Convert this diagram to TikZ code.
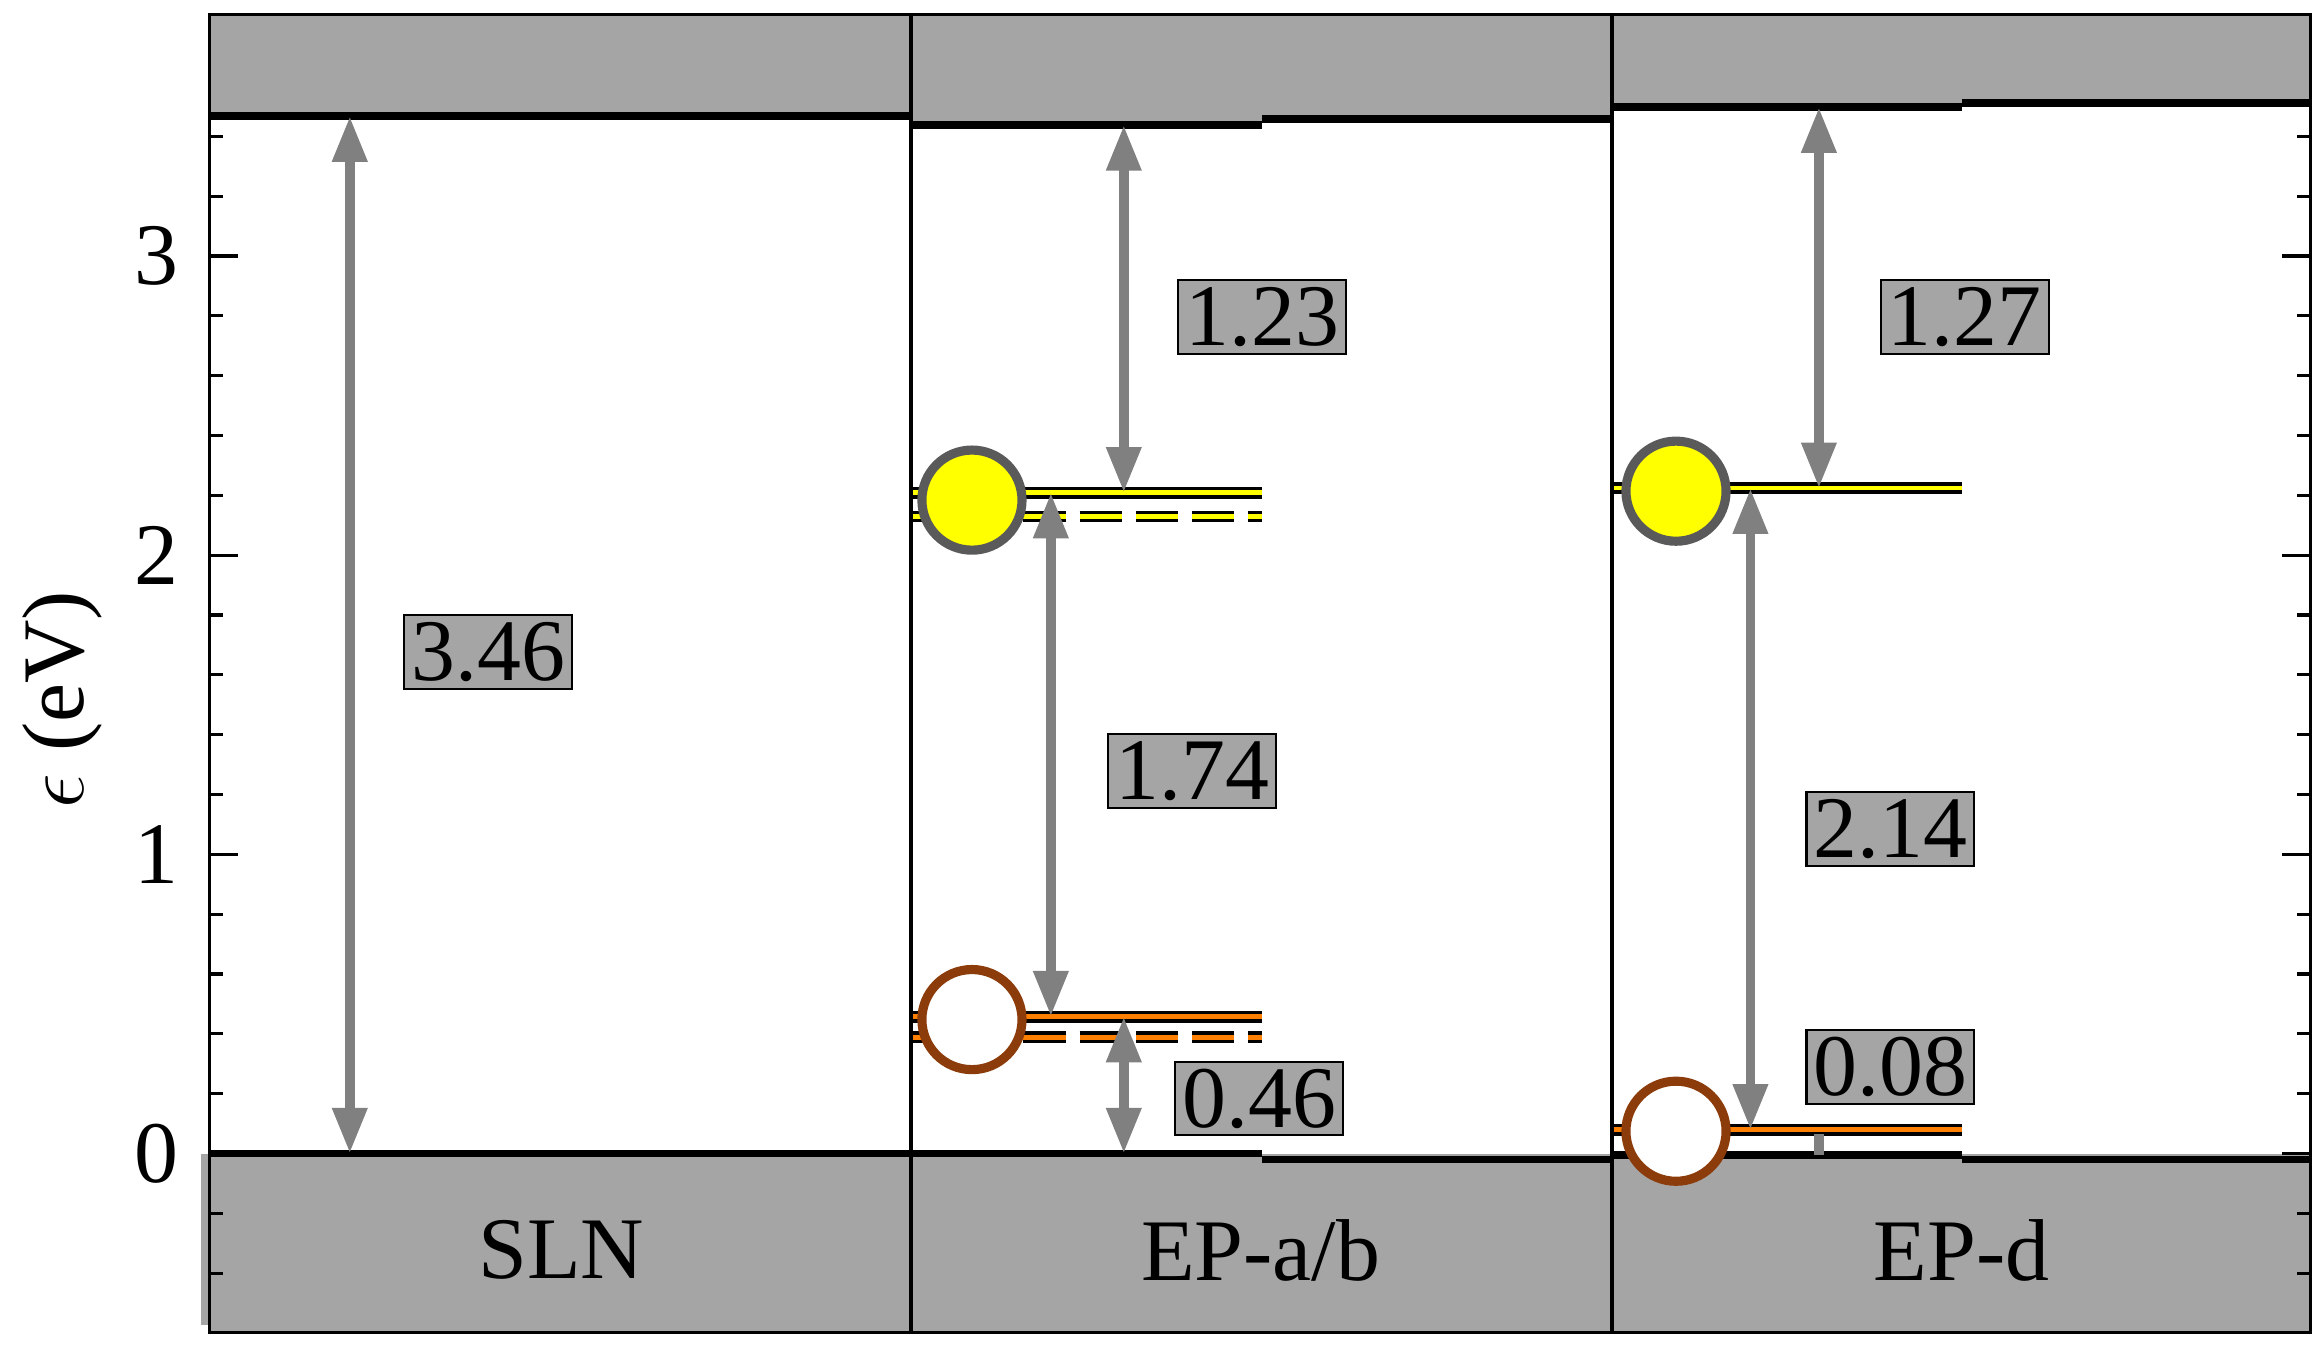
\documentclass[tikz,border=0pt]{standalone}
\usepackage{fontspec}
\setmainfont{Liberation Serif}
\usetikzlibrary{arrows.meta}
\definecolor{bandgray}{RGB}{165,165,165}
\definecolor{arrgray}{RGB}{128,128,128}
\definecolor{ylw}{RGB}{255,255,0}
\definecolor{org}{RGB}{255,128,0}
\definecolor{brn}{RGB}{140,60,10}
\definecolor{cgray}{RGB}{90,90,90}
\begin{document}
\begin{tikzpicture}[x=0.014885cm,y=-0.014885cm,
  gap/.style={draw=arrgray,line width=2.8pt,{Triangle[length=13pt,width=9.4pt]}-{Triangle[length=13pt,width=9.4pt]}},
  lbl/.style={draw=black,line width=0.6pt,fill=bandgray,inner sep=2pt,font=\fontsize{25}{25}\selectfont},
  edge/.style={line width=2.2pt,black},
  lvl/.style={line width=3.4pt,black},
  dot/.style={circle,line width=2.6pt,minimum size=28.5pt,inner sep=0pt},
  ax/.style={font=\fontsize{25}{25}\selectfont}]
\useasboundingbox (0,0) rectangle (1560,906.3);
% bands
\fill[bandgray] (141,10) rectangle (612,78);
\fill[bandgray] (612,10) rectangle (1083,82);
\fill[bandgray] (1083,10) rectangle (1552,70);
\fill[bandgray] (141,775) rectangle (1552,895);
\fill[bandgray] (135,775) rectangle (141,890);
% band edges
\draw[edge] (141,78) -- (612,78);
\draw[edge] (612,84) -- (848,84);
\draw[edge] (848,80) -- (1083,80);
\draw[edge] (1083,72) -- (1318,72);
\draw[edge] (1318,69) -- (1552,69);
\draw[edge] (141,775) -- (848,775);
\draw[edge] (848,779) -- (1083,779);
\draw[edge] (1083,776) -- (1318,776);
\draw[edge] (1318,779) -- (1552,779);
% defect levels
\draw[lvl] (612,331) -- (848,331); \draw[ylw,line width=1.3pt] (612,331) -- (848,331);
\draw[lvl,dash pattern=on 12pt off 4pt] (612,347) -- (848,347); \draw[ylw,line width=1.3pt,dash pattern=on 12pt off 4pt] (612,347) -- (848,347);
\draw[lvl] (612,683) -- (848,683); \draw[org,line width=1.3pt] (612,683) -- (848,683);
\draw[lvl,dash pattern=on 12pt off 4pt] (612,697) -- (848,697); \draw[org,line width=1.3pt,dash pattern=on 12pt off 4pt] (612,697) -- (848,697);
\draw[lvl] (1083,328) -- (1318,328); \draw[ylw,line width=1.3pt] (1083,328) -- (1318,328);
\draw[lvl] (1083,759) -- (1318,759); \draw[org,line width=1.3pt] (1083,759) -- (1318,759);
% arrows
\coordinate (s0) at (235,775); \coordinate (s1) at (235,78);
\draw[gap] (s0) -- (s1);
\coordinate (a1) at (755,84); \coordinate (a2) at (755,331);
\draw[gap] (a1) -- (a2);
\coordinate (b1) at (706,331); \coordinate (b2) at (706,683);
\draw[gap] (b1) -- (b2);
\coordinate (c1) at (755,683); \coordinate (c2) at (755,775);
\draw[gap] (c1) -- (c2);
\coordinate (d1) at (1222,72); \coordinate (d2) at (1222,328);
\draw[gap] (d1) -- (d2);
\coordinate (e1) at (1176,328); \coordinate (e2) at (1176,759);
\draw[gap] (e1) -- (e2);
\coordinate (f1) at (1222,762); \coordinate (f2) at (1222,776);
\draw[draw=arrgray,line width=2.8pt] (f1) -- (f2);
% dots
\node[dot,draw=cgray,fill=ylw] (y1) at (653,336) {};
\node[dot,draw=cgray,fill=ylw] (y2) at (1126,330) {};
\node[dot,draw=brn,fill=white] (o1) at (653,685) {};
\node[dot,draw=brn,fill=white] (o2) at (1126,760) {};
% labels
\node[lbl] (l1) at (328,438) {3.46};
\node[lbl] (l2) at (848,213) {1.23};
\node[lbl] (l3) at (801,518) {1.74};
\node[lbl] (l4) at (846,738) {0.46};
\node[lbl] (l5) at (1320,213) {1.27};
\node[lbl] (l6) at (1270,557) {2.14};
\node[lbl] (l7) at (1270,717) {0.08};
% panel names
\node[ax] (p1) at (377,840) {SLN};
\node[ax] (p2) at (847,840) {EP-a/b};
\node[ax] (p3) at (1318,840) {EP-d};
% frame
\draw[line width=0.9pt] (141,10) rectangle (1552,895);
\draw[line width=0.9pt] (612,10) -- (612,895);
\draw[line width=0.9pt] (1083,10) -- (1083,895);
% ticks
\foreach \e in {-0.4,-0.2,0.2,0.4,...,3.4} {
  \draw[line width=0.9pt] (141,{775-201*\e}) -- (150,{775-201*\e});
  \draw[line width=0.9pt] (1552,{775-201*\e}) -- (1543,{775-201*\e});
}
\foreach \e in {0,1,2,3} {
  \draw[line width=0.9pt] (141,{775-201*\e}) -- (160,{775-201*\e});
  \draw[line width=0.9pt] (1552,{775-201*\e}) -- (1533,{775-201*\e});
  \node[ax] at (105,{775-201*\e}) {\e};
}
\node[ax,rotate=90] (yl) at (42,470) {$\epsilon$ (eV)};
\end{tikzpicture}
\end{document}
